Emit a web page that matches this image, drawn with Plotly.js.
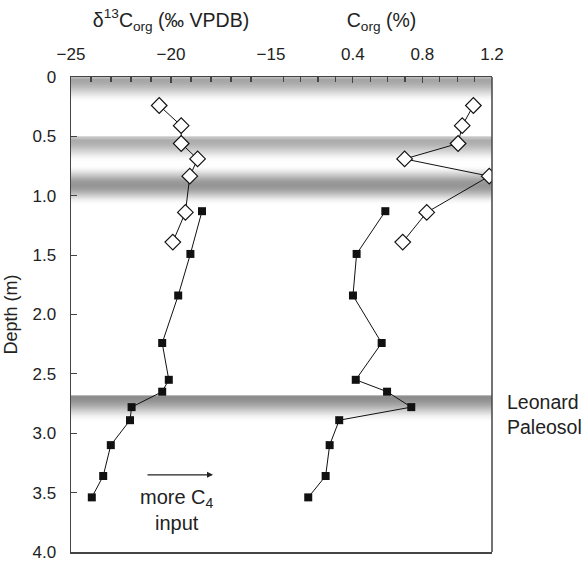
<!DOCTYPE html>
<html>
<head>
<meta charset="utf-8">
<script src="https://cdn.plot.ly/plotly-3.0.1.min.js"></script>
<style>html,body{margin:0;padding:0;background:#fff;}#chart{width:584px;height:561px;}</style>
</head>
<body>
<div id="chart"></div>
<script>
// ---- Data ----
var diamondDepth = [0.24, 0.41, 0.56, 0.69, 0.835, 1.14, 1.39];
var diamondD13C  = [-20.59, -19.49, -19.49, -18.67, -19.06, -19.28, -19.91];
var diamondCorg  = [1.093, 1.029, 1.005, 0.698, 1.184, 0.825, 0.687];

var squareDepth = [1.13, 1.49, 1.84, 2.24, 2.55, 2.65, 2.78, 2.89, 3.10, 3.36, 3.54];
var squareD13C  = [-18.45, -19.03, -19.64, -20.44, -20.11, -20.44, -21.97, -22.05, -23.01, -23.39, -23.96];
var squareCorg  = [0.587, 0.422, 0.401, 0.566, 0.417, 0.597, 0.736, 0.322, 0.267, 0.244, 0.144];

var bandTop    = [0.0, 0.50, 0.74, 2.68];
var bandBottom = [0.22, 0.72, 1.08, 2.91];

var depthTicks = [0, 0.5, 1.0, 1.5, 2.0, 2.5, 3.0, 3.5, 4.0];
var depthLabels = ['0', '0.5', '1.0', '1.5', '2.0', '2.5', '3.0', '3.5', '4.0'];
var d13Ticks = [-25, -20, -15];
var corgTicks = [0.4, 0.8, 1.2];
var corgLabels = ['0.4', '0.8', '1.2'];

// ---- Band styling (peak position within band, darkest gray) ----
var bandPeak = [0.08, 0.15, 0.5, 0.04];
var bandGray = [165, 172, 150, 140];

var shapes = [];
var N = 60;
for (var b = 0; b < bandTop.length; b++) {
  var t0 = bandTop[b], t1 = bandBottom[b], h = (t1 - t0) / N;
  for (var i = 0; i < N; i++) {
    var u = (i + 0.5) / N, p = bandPeak[b], d;
    if (u < p) d = (p - u) / p; else d = (u - p) / (1 - p);
    var t = 0.5 * (1 + Math.cos(Math.PI * Math.min(d, 1)));
    if (u < p && b !== 2) t = Math.max(t, 0.75);
    var g = Math.round(255 - (255 - bandGray[b]) * t);
    shapes.push({type: 'rect', xref: 'paper', yref: 'y', x0: 0, x1: 1,
      y0: t0 + i * h, y1: (i === N - 1) ? t1 : t0 + (i + 3) * h,
      fillcolor: 'rgb(' + g + ',' + g + ',' + g + ')', line: {width: 0}, layer: 'below'});
  }
}
shapes.push({type: 'line', xref: 'paper', yref: 'paper', x0: 1, x1: 1, y0: 0, y1: 1,
  line: {color: '#444', width: 1.5}});

var lineStyle = {color: '#111', width: 1};
var traces = [
  {x: diamondD13C, y: diamondDepth, xaxis: 'x', yaxis: 'y', mode: 'lines+markers',
   line: lineStyle, marker: {symbol: 'diamond', size: 12, color: '#fff', line: {color: '#111', width: 1.2}}},
  {x: squareD13C, y: squareDepth, xaxis: 'x', yaxis: 'y', mode: 'lines+markers',
   line: lineStyle, marker: {symbol: 'square', size: 8, color: '#111'}},
  {x: diamondCorg, y: diamondDepth, xaxis: 'x2', yaxis: 'y', mode: 'lines+markers',
   line: lineStyle, marker: {symbol: 'diamond', size: 12, color: '#fff', line: {color: '#111', width: 1.2}}},
  {x: squareCorg, y: squareDepth, xaxis: 'x2', yaxis: 'y', mode: 'lines+markers',
   line: lineStyle, marker: {symbol: 'square', size: 8, color: '#111'}}
];

var fontFam = 'Liberation Sans, Arial, sans-serif';
var tickFont = {family: fontFam, size: 17, color: '#222'};
var split = 200 / 421;

var layout = {
  width: 584, height: 561,
  margin: {l: 71, r: 92, t: 77, b: 9},
  paper_bgcolor: '#fff', plot_bgcolor: 'rgba(0,0,0,0)',
  showlegend: false,
  font: {family: fontFam, color: '#222'},
  xaxis: {domain: [0, split], side: 'top', anchor: 'y', range: [-25, -15],
    tickvals: d13Ticks, ticks: 'inside', ticklen: 6, tickcolor: '#444', tickwidth: 1.2,
    minor: {dtick: 1, tick0: -25, ticks: 'inside', ticklen: 5, tickcolor: '#444', tickwidth: 1.2, showgrid: false},
    showline: true, linecolor: '#444', linewidth: 1.5, mirror: true, showgrid: false, zeroline: false,
    tickfont: tickFont, ticklabelstandoff: 9, ticklabeloverflow: 'allow',
    title: {text: '\u03b4<sup>13</sup>C<sub>org</sub> (\u2030 VPDB)', font: {family: fontFam, size: 19.5, color: '#222'}, standoff: 12}},
  xaxis2: {domain: [split, 1], side: 'top', anchor: 'y', range: [-0.07, 1.2],
    tickvals: corgTicks, ticktext: corgLabels, ticks: 'inside', ticklen: 6, tickcolor: '#444', tickwidth: 1.2,
    minor: {dtick: 0.1, tick0: 0, ticks: 'inside', ticklen: 5, tickcolor: '#444', tickwidth: 1.2, showgrid: false},
    showline: true, linecolor: '#444', linewidth: 1.5, mirror: true, showgrid: false, zeroline: false,
    tickfont: tickFont, ticklabelstandoff: 9, ticklabeloverflow: 'allow',
    title: {text: 'C<sub>org</sub> (%)', font: {family: fontFam, size: 19.5, color: '#222'}, standoff: 12}},
  yaxis: {range: [4, 0], anchor: 'x', side: 'left', tickvals: depthTicks, ticktext: depthLabels,
    ticks: 'inside', ticklen: 6, tickcolor: '#444', tickwidth: 1.2,
    showline: true, linecolor: '#444', linewidth: 1.5, showgrid: false, zeroline: false,
    tickfont: tickFont, ticklabelstandoff: 10, ticklabeloverflow: 'allow',
    title: {text: 'Depth (m)', font: {family: fontFam, size: 18, color: '#222'}, standoff: 10}},
  yaxis2: {range: [4, 0], overlaying: 'y', anchor: 'free', position: split, side: 'left',
    tickvals: depthTicks, showticklabels: false, ticks: 'inside', ticklen: 6, tickcolor: '#444', tickwidth: 1.2,
    showline: true, linecolor: '#444', linewidth: 1.5, showgrid: false, zeroline: false},
  shapes: shapes,
  annotations: [
    {xref: 'x', yref: 'y', x: -17.9, y: 3.35, ax: -21.25, ay: 3.35, axref: 'x', ayref: 'y',
     text: '', showarrow: true, arrowhead: 2, arrowsize: 1, arrowwidth: 1.2, arrowcolor: '#222'},
    {xref: 'x', yref: 'y', x: -19.7, y: 3.65, text: 'more C<sub>4</sub><br>input', showarrow: false,
     font: {family: fontFam, size: 20, color: '#222'}, align: 'center'},
    {xref: 'paper', yref: 'y', x: 1.03, y: 2.84, xanchor: 'left', text: 'Leonard<br>Paleosol', showarrow: false,
     font: {family: fontFam, size: 19.5, color: '#222'}, align: 'left'}
  ]
};

Plotly.newPlot('chart', traces, layout, {staticPlot: true, displayModeBar: false});
</script>
</body>
</html>
